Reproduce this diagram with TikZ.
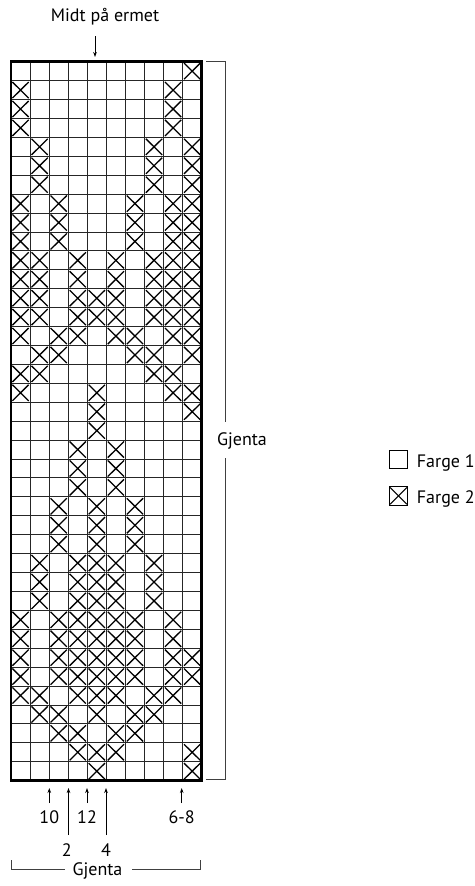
\documentclass[tikz,border=0pt]{standalone}
\usepackage{fontspec}
\setmainfont{PT Sans}
\usetikzlibrary{arrows.meta}
\begin{document}
\begin{tikzpicture}[x=1pt,y=-1pt,
  lbl/.style={font=\fontsize{18}{20}\selectfont, inner sep=0pt},
  gridline/.style={line width=0.9pt, black!85},
  border/.style={line width=2.6pt, black},
  xmark/.style={line width=1.3pt, black},
  bracket/.style={line width=0.8pt, black!75},
  pointer/.style={line width=0.8pt, black, -{Stealth[length=5pt,width=3.6pt]}},
  legbox/.style={draw, line width=0.8pt, minimum width=18.4pt, minimum height=18.4pt, inner sep=0pt}]
\useasboundingbox (0,0) rectangle (474,886);
\def\cw{19.07}\def\ch{18.92}\def\gx{11}\def\gy{61.7}
% grid lines
\foreach \i in {1,...,9} \draw[gridline] ({\gx+\i*\cw},\gy) -- ({\gx+\i*\cw},{\gy+38*\ch});
\foreach \j in {1,...,37} \draw[gridline] (\gx,{\gy+\j*\ch}) -- ({\gx+10*\cw},{\gy+\j*\ch});
% crosses (Farge 2)
\foreach \r/\cl in {1/{10},2/{1,9},3/{1,9},4/{1,9},5/{2,8,10},6/{2,8,10},7/{2,8,10},
  8/{1,3,7,9,10},9/{1,3,7,9,10},10/{1,3,7,9,10},11/{1,2,4,6,8,9,10},12/{1,2,4,6,8,9,10},
  13/{1,2,4,5,6,8,9,10},14/{1,2,4,5,6,8,9,10},15/{1,3,4,6,7,9,10},16/{2,3,7,8,10},
  17/{1,2,8,9},18/{1,5,9,10},19/{5,10},20/{5},21/{4,6},22/{4,6},23/{4,6},
  24/{3,5,7},25/{3,5,7},26/{3,5,7},27/{2,4,5,6,8},28/{2,4,5,6,8},29/{2,4,5,6,8},
  30/{1,3,4,5,6,7,9},31/{1,3,4,5,6,7,9},32/{1,3,4,5,6,7,9,10},33/{1,3,4,5,6,7,9,10},
  34/{1,2,4,5,6,8,9},35/{2,3,5,7,8},36/{3,4,6,7},37/{4,5,6,10},38/{5,10}}{
  \foreach \c in \cl {
    \draw[xmark] ({\gx+(\c-1)*\cw+1.4},{\gy+(\r-1)*\ch+1.4}) -- ({\gx+\c*\cw-1.4},{\gy+\r*\ch-1.4})
                 ({\gx+\c*\cw-1.4},{\gy+(\r-1)*\ch+1.4}) -- ({\gx+(\c-1)*\cw+1.4},{\gy+\r*\ch-1.4});
  }
}
% border
\draw[border] (\gx,\gy) rectangle ({\gx+10*\cw},{\gy+38*\ch});
% top label and arrow
\node[lbl, anchor=base] (midt) at (105,21.7) {Midt på ermet};
\coordinate (ta) at (95,36);
\coordinate (tb) at (95,57);
\draw[pointer] (ta) -- (tb);
% right bracket
\node[lbl, anchor=base] (gr) at (242,445) {Gjenta};
\coordinate (r1) at (206,61.7);
\coordinate (r2) at (225,61.7);
\coordinate (r3) at (225,422);
\coordinate (r4) at (225,458);
\coordinate (r5) at (225,779);
\coordinate (r6) at (206,779);
\draw[bracket] (r1) -- (r2) -- (r3);
\draw[bracket] (r4) -- (r5) -- (r6);
% bottom arrows and labels
\node[lbl] (l10) at (49.3,816.7) {10};
\node[lbl] (l12) at (87,816.7) {12};
\node[lbl] (l68) at (181.7,816.7) {6-8};
\node[lbl] (l2) at (66.7,850) {2};
\node[lbl] (l4) at (106,850) {4};
\coordinate (a10) at (49.3,803); \coordinate (t10) at (49.3,788);
\coordinate (a2) at (68.5,835); \coordinate (t2) at (68.5,788);
\coordinate (a12) at (87,803); \coordinate (t12) at (87,788);
\coordinate (a4) at (106,835); \coordinate (t4) at (106,788);
\coordinate (a68) at (181.7,803); \coordinate (t68) at (181.7,788);
\foreach \p in {10,2,12,4,68} \draw[pointer] (a\p) -- (t\p);
% bottom bracket
\node[lbl, anchor=base] (gb) at (97.5,875) {Gjenta};
\coordinate (b1) at (11,860); \coordinate (b2) at (11,869); \coordinate (b3) at (65,869);
\coordinate (b4) at (132,869); \coordinate (b5) at (200,869); \coordinate (b6) at (200,860);
\draw[bracket] (b1) -- (b2) -- (b3);
\draw[bracket] (b4) -- (b5) -- (b6);
% legend
\node[legbox] (k1) at (398.5,459.5) {};
\node[lbl, anchor=base west] (f1) at (416.7,467.3) {Farge 1};
\node[legbox] (k2) at (398.5,495.8) {};
\draw[line width=1.1pt] ([shift={(1.2,1.2)}]k2.north west) -- ([shift={(-1.2,-1.2)}]k2.south east);
\draw[line width=1.1pt] ([shift={(-1.2,1.2)}]k2.north east) -- ([shift={(1.2,-1.2)}]k2.south west);
\node[lbl, anchor=base west] (f2) at (416.7,503.6) {Farge 2};
\end{tikzpicture}
\end{document}
